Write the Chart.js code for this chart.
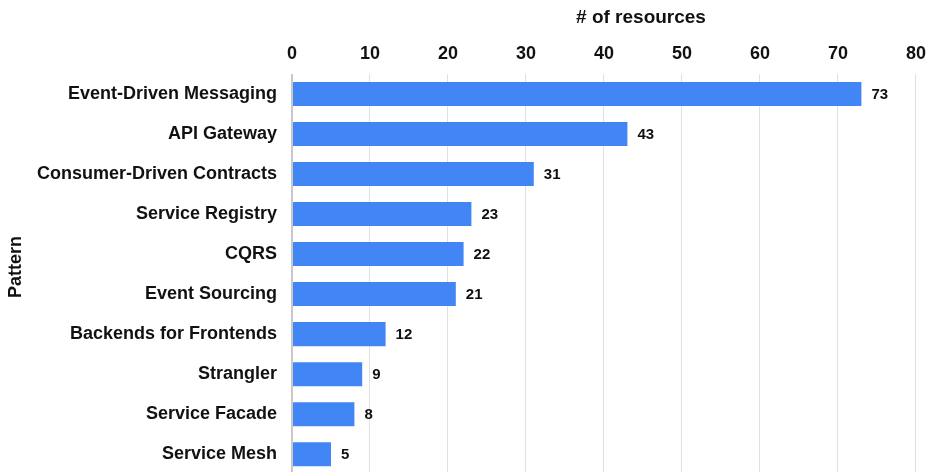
<!DOCTYPE html>
<html>
<head>
<meta charset="utf-8">
<script src="https://cdn.jsdelivr.net/npm/chart.js@4/dist/chart.umd.min.js"></script>
<style>
  html, body { margin: 0; padding: 0; background: #fff; overflow: hidden; }
  #wrap { position: relative; width: 935px; height: 500px; }
</style>
</head>
<body>
<div id="wrap"><canvas id="chart"></canvas></div>
<script>
// data
const patterns = [
  'Event-Driven Messaging', 'API Gateway', 'Consumer-Driven Contracts',
  'Service Registry', 'CQRS', 'Event Sourcing', 'Backends for Frontends',
  'Strangler', 'Service Facade', 'Service Mesh'
];
const resources = [73, 43, 31, 23, 22, 21, 12, 9, 8, 5];
const xTicks = [0, 10, 20, 30, 40, 50, 60, 70, 80];
const xTitle = '# of resources';
const yTitle = 'Pattern';

const FONT = 'Arial, "Liberation Sans", Helvetica, sans-serif';

// value labels at bar ends + both axis titles (slightly off-centre in the original)
const extras = {
  id: 'extras',
  afterDatasetsDraw(chart) {
    const c = chart.ctx;
    const meta = chart.getDatasetMeta(0);
    c.save();
    c.font = 'bold 15px ' + FONT;
    c.fillStyle = '#111';
    c.textAlign = 'left';
    c.textBaseline = 'middle';
    meta.data.forEach((bar, i) => {
      c.fillText(resources[i], bar.x + 10, bar.y + 1);
    });

    const xs = chart.scales.x;
    c.font = 'bold 19px ' + FONT;
    c.textAlign = 'center';
    c.fillText(xTitle, (xs.left + xs.right) / 2 + 37, xs.top + 12);

    const ys = chart.scales.y;
    c.font = 'bold 18px ' + FONT;
    c.translate(ys.left + 11, (ys.top + ys.bottom) / 2 - 7);
    c.rotate(-Math.PI / 2);
    c.fillText(yTitle, 0, 0);
    c.restore();
  }
};

new Chart(document.getElementById('chart'), {
  type: 'bar',
  data: {
    labels: patterns,
    datasets: [{
      data: resources,
      backgroundColor: '#4285F4',
      borderWidth: 0,
      categoryPercentage: 1,
      barPercentage: 0.6
    }]
  },
  options: {
    indexAxis: 'y',
    responsive: true,
    maintainAspectRatio: false,
    animation: false,
    layout: { padding: { top: 6, right: 6, bottom: 6, left: 5 } },
    plugins: {
      legend: { display: false },
      tooltip: { enabled: false }
    },
    scales: {
      x: {
        position: 'top',
        min: 0,
        max: 80,
        afterBuildTicks: (axis) => { axis.ticks = xTicks.map(v => ({ value: v })); },
        afterFit: (axis) => { axis.height = 68; },
        border: { display: false },
        grid: {
          drawTicks: false,
          color: (ctx) => ctx.tick && ctx.tick.value === 0 ? '#c8c8c8' : '#e0e0e0',
          lineWidth: (ctx) => ctx.tick && ctx.tick.value === 0 ? 2 : 1
        },
        ticks: {
          color: '#111',
          padding: 9,
          font: { family: FONT, size: 18, weight: 'bold' }
        },
        title: {
          // space kept here, text drawn by the plugin
          display: true,
          text: xTitle,
          color: 'rgba(0,0,0,0)',
          padding: { top: 0, bottom: 7 },
          font: { family: FONT, size: 19, weight: 'bold' }
        }
      },
      y: {
        border: { display: false },
        grid: { display: false, drawTicks: false },
        afterFit: (axis) => { axis.width = 287; },
        ticks: {
          color: '#111',
          padding: 15,
          font: { family: FONT, size: 18, weight: 'bold' }
        },
        title: {
          display: true,
          text: yTitle,
          color: 'rgba(0,0,0,0)',
          padding: { top: 0, bottom: 0 },
          font: { family: FONT, size: 18, weight: 'bold' }
        }
      }
    }
  },
  plugins: [extras]
});
</script>
</body>
</html>
